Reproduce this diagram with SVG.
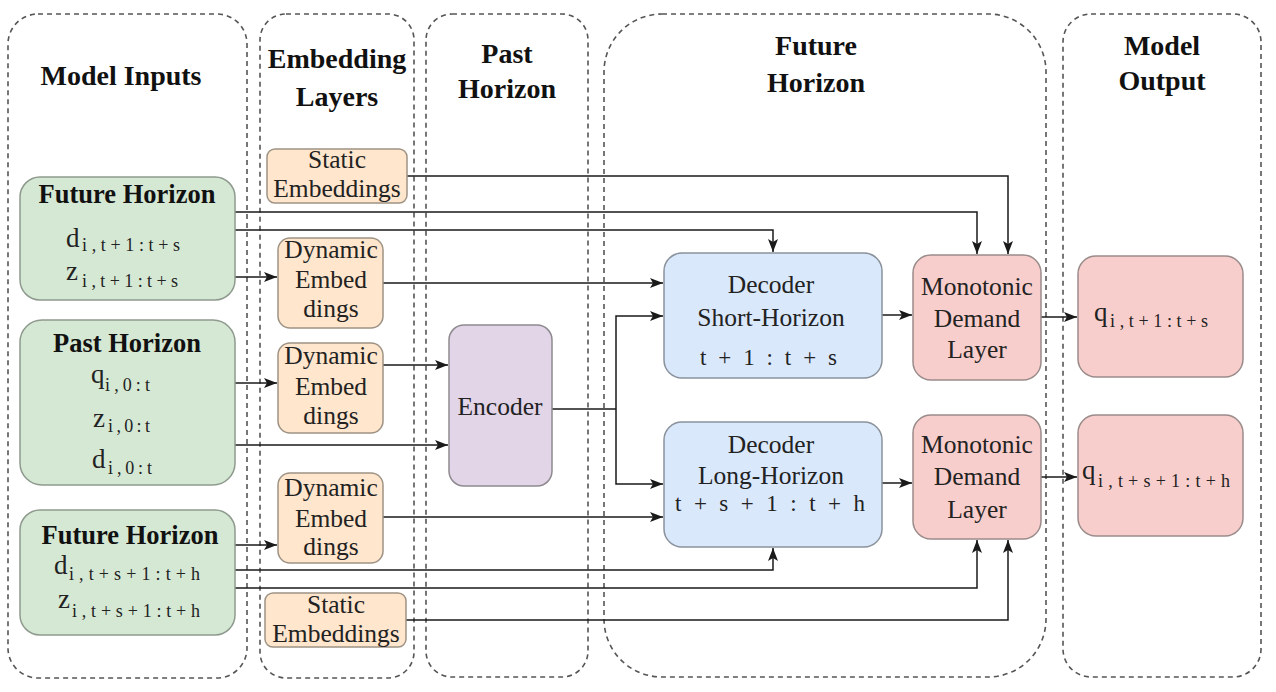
<svg xmlns="http://www.w3.org/2000/svg" width="1276" height="692" viewBox="0 0 1276 692" font-family="Liberation Serif, serif">
<defs>
<style>
text{font-family:'Liberation Serif','Times New Roman',serif}
.cont{fill:none;stroke:#555;stroke-width:1.6;stroke-dasharray:5 4}
.title{font-weight:bold;font-size:28px;fill:#111;text-anchor:middle}
.hdr{font-weight:bold;font-size:26.5px;fill:#111;text-anchor:middle}
.lbl{font-size:25.5px;fill:#222;text-anchor:middle}
.m{font-size:27px;fill:#222}
.s{font-size:18px;fill:#222}
.mt{font-size:23px;fill:#222}
.green{fill:#d5e8d4;stroke:#8f9a8e;stroke-width:1.5}
.orange{fill:#ffe6cc;stroke:#9e9384;stroke-width:1.5}
.purple{fill:#e1d5e7;stroke:#8e8a90;stroke-width:1.5}
.blue{fill:#dae8fc;stroke:#8a929c;stroke-width:1.5}
.red{fill:#f8cecc;stroke:#9a8c8b;stroke-width:1.5}
.c{fill:none;stroke:#1a1a1a;stroke-width:1.5;marker-end:url(#arr)}
.cn{fill:none;stroke:#1a1a1a;stroke-width:1.5}
</style>
<marker id="arr" markerUnits="userSpaceOnUse" markerWidth="14" markerHeight="11" refX="13" refY="5" orient="auto">
<path d="M0,0 L13,5 L0,10 L3,5 Z" fill="#1a1a1a"/>
</marker>
</defs>

<g id="containers">
<g id="c-inputs"><rect class="cont" x="8" y="14" width="239" height="664" rx="30"/><text class="title" x="121" y="85">Model Inputs</text></g>
<g id="c-embed"><rect class="cont" x="260" y="14" width="154" height="664" rx="26"/><text class="title" x="337" y="68">Embedding</text><text class="title" x="337" y="106">Layers</text></g>
<g id="c-past"><rect class="cont" x="426" y="14" width="162" height="663" rx="26"/><text class="title" x="507" y="63">Past</text><text class="title" x="507" y="98">Horizon</text></g>
<g id="c-future"><rect class="cont" x="604" y="14" width="442" height="663" rx="58"/><text class="title" x="816" y="55">Future</text><text class="title" x="816" y="92">Horizon</text></g>
<g id="c-output"><rect class="cont" x="1063" y="14" width="198" height="663" rx="28"/><text class="title" x="1162" y="55">Model</text><text class="title" x="1162" y="90">Output</text></g>
</g>

<g id="connectors">
<path class="c" d="M407,176 H1008 V254"/>
<path class="c" d="M235,212 H977 V254"/>
<path class="c" d="M235,230 H773 V252"/>
<path class="c" d="M235,277 H277"/>
<path class="c" d="M383,283 H663"/>
<path class="c" d="M235,383 H277"/>
<path class="c" d="M383,365 H448"/>
<path class="c" d="M235,445 H448"/>
<path class="cn" d="M552,409 H616"/>
<path class="c" d="M616,409 V316 H663"/>
<path class="c" d="M616,409 V484 H663"/>
<path class="c" d="M383,517 H663"/>
<path class="c" d="M235,545 H277"/>
<path class="c" d="M235,570 H773 V548"/>
<path class="c" d="M235,588 H977 V540"/>
<path class="c" d="M406,620 H1008 V540"/>
<path class="c" d="M882,315 H912"/>
<path class="c" d="M882,483 H912"/>
<path class="c" d="M1041,317 H1077"/>
<path class="c" d="M1041,477 H1077"/>
</g>

<g id="n-future1">
<rect class="green" x="20" y="177" width="215" height="123" rx="20"/>
<text class="hdr" x="127" y="203">Future Horizon</text>
<text class="m" x="66" y="247">d</text><text class="s" x="82" y="251" textLength="98" lengthAdjust="spacing">i,t+1:t+s</text>
<text class="m" x="66" y="280">z</text><text class="s" x="82" y="287" textLength="96" lengthAdjust="spacing">i,t+1:t+s</text>
</g>

<g id="n-past">
<rect class="green" x="20" y="320" width="215" height="165" rx="22"/>
<text class="hdr" x="127" y="352">Past Horizon</text>
<text class="m" x="91" y="383">q</text><text class="s" x="105" y="391" textLength="45" lengthAdjust="spacing">i,0:t</text>
<text class="m" x="93" y="427">z</text><text class="s" x="108" y="432" textLength="42" lengthAdjust="spacing">i,0:t</text>
<text class="m" x="92" y="468">d</text><text class="s" x="108" y="474" textLength="44" lengthAdjust="spacing">i,0:t</text>
</g>

<g id="n-future2">
<rect class="green" x="20" y="510" width="215" height="125" rx="20"/>
<text class="hdr" x="130" y="544">Future Horizon</text>
<text class="m" x="54" y="574">d</text><text class="s" x="69" y="580" textLength="131" lengthAdjust="spacing">i,t+s+1:t+h</text>
<text class="m" x="58" y="608">z</text><text class="s" x="72" y="617" textLength="128" lengthAdjust="spacing">i,t+s+1:t+h</text>
</g>

<g id="n-static1">
<rect class="orange" x="267" y="149" width="140" height="54" rx="8"/>
<text class="lbl" x="337" y="168">Static</text>
<text class="lbl" x="337" y="197">Embeddings</text>
</g>

<g id="n-dyn1">
<rect class="orange" x="278" y="238" width="105" height="90" rx="12"/>
<text class="lbl" x="331" y="258">Dynamic</text>
<text class="lbl" x="331" y="288">Embed</text>
<text class="lbl" x="331" y="317">dings</text>
</g>

<g id="n-dyn2">
<rect class="orange" x="278" y="343" width="105" height="90" rx="12"/>
<text class="lbl" x="331" y="364">Dynamic</text>
<text class="lbl" x="331" y="395">Embed</text>
<text class="lbl" x="331" y="424">dings</text>
</g>

<g id="n-dyn3">
<rect class="orange" x="278" y="473" width="105" height="90" rx="12"/>
<text class="lbl" x="331" y="496">Dynamic</text>
<text class="lbl" x="331" y="527">Embed</text>
<text class="lbl" x="331" y="555">dings</text>
</g>

<g id="n-static2">
<rect class="orange" x="265" y="593" width="141" height="54" rx="8"/>
<text class="lbl" x="336" y="613">Static</text>
<text class="lbl" x="336" y="642">Embeddings</text>
</g>

<g id="n-encoder">
<rect class="purple" x="449" y="325" width="103" height="161" rx="15"/>
<text class="lbl" x="500" y="415">Encoder</text>
</g>

<g id="n-dec-short">
<rect class="blue" x="664" y="253" width="218" height="125" rx="18"/>
<text class="lbl" x="771" y="293">Decoder</text>
<text class="lbl" x="771" y="326">Short-Horizon</text>
<text class="mt" x="700" y="365" textLength="137" lengthAdjust="spacing">t + 1 : t + s</text>
</g>

<g id="n-dec-long">
<rect class="blue" x="664" y="422" width="218" height="125" rx="18"/>
<text class="lbl" x="771" y="453">Decoder</text>
<text class="lbl" x="771" y="484">Long-Horizon</text>
<text class="mt" x="675" y="511" textLength="190" lengthAdjust="spacing">t + s + 1 : t + h</text>
</g>

<g id="n-mono1">
<rect class="red" x="913" y="255" width="128" height="125" rx="18"/>
<text class="lbl" x="977" y="295">Monotonic</text>
<text class="lbl" x="977" y="327">Demand</text>
<text class="lbl" x="977" y="358">Layer</text>
</g>

<g id="n-mono2">
<rect class="red" x="913" y="415" width="128" height="124" rx="18"/>
<text class="lbl" x="977" y="453">Monotonic</text>
<text class="lbl" x="977" y="485">Demand</text>
<text class="lbl" x="977" y="518">Layer</text>
</g>

<g id="n-out1">
<rect class="red" x="1078" y="256" width="165" height="121" rx="18"/>
<text class="m" x="1094" y="321">q</text><text class="s" x="1110" y="327" textLength="98" lengthAdjust="spacing">i,t+1:t+s</text>
</g>

<g id="n-out2">
<rect class="red" x="1078" y="415" width="165" height="121" rx="18"/>
<text class="m" x="1082" y="479">q</text><text class="s" x="1098" y="487" textLength="132" lengthAdjust="spacing">i,t+s+1:t+h</text>
</g>
</svg>
